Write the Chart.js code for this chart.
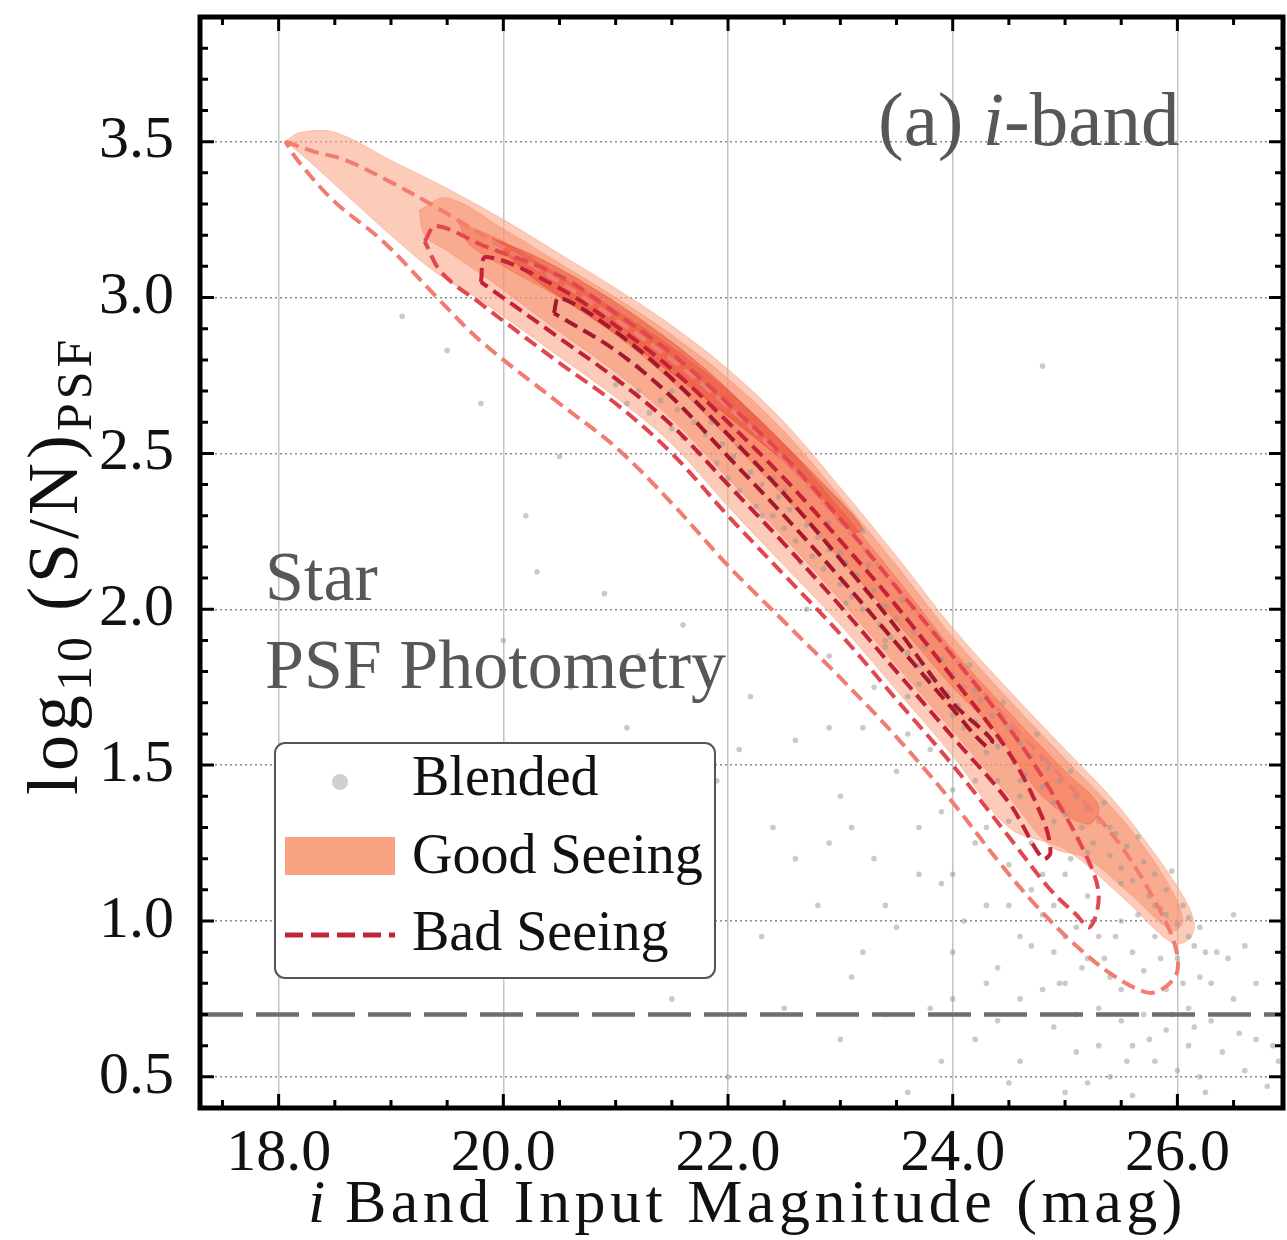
<!DOCTYPE html>
<html>
<head>
<meta charset="utf-8">
<script src="https://cdn.jsdelivr.net/npm/chart.js@4.4.0/dist/chart.umd.min.js"></script>
<style>
body { margin: 0; background: #fff; }
#caixa { width: 1287px; height: 1240px; position: relative; }
</style>
</head>
<body>
<div id="caixa"><canvas id="myChart"></canvas></div>
<script>
// eixos
var xTicks = [18, 20, 22, 24, 26];
var yTicks = [0.5, 1.0, 1.5, 2.0, 2.5, 3.0, 3.5];
var xLim = [17.3, 26.94];
var yLim = [0.4, 3.9];
var limiteSN = 0.7; // log10(5)

// Good Seeing - contornos preenchidos (do mais externo ao mais interno)
var bomNivel1 = [[18.05,3.50],[18.2,3.53],[18.5,3.53],[19.0,3.44],[19.5,3.35],[20.0,3.25],[20.5,3.14],[21.0,3.03],[21.5,2.91],[22.0,2.77],[22.5,2.60],[23.0,2.39],[23.5,2.17],[24.0,1.94],[24.5,1.74],[25.0,1.55],[25.4,1.40],[25.75,1.24],[26.05,1.08],[26.15,0.99],[26.1,0.94],[25.95,0.93],[25.5,1.08],[25.0,1.23],[24.5,1.30],[24.0,1.53],[23.5,1.74],[23.0,1.95],[22.5,2.14],[22.0,2.33],[21.5,2.53],[21.0,2.68],[20.5,2.81],[19.8,2.99],[19.4,3.08],[19.0,3.20],[18.6,3.33],[18.2,3.46],[18.05,3.50]];
var bomNivel2 = [[19.25,3.28],[19.5,3.32],[20.0,3.22],[20.5,3.11],[21.0,3.00],[21.5,2.88],[22.0,2.74],[22.5,2.57],[23.0,2.36],[23.5,2.14],[24.0,1.91],[24.5,1.71],[25.0,1.52],[25.5,1.33],[25.9,1.13],[26.05,1.00],[25.95,0.97],[25.6,1.08],[25.2,1.20],[24.87,1.24],[24.5,1.40],[24.0,1.61],[23.5,1.82],[23.0,2.03],[22.5,2.23],[22.0,2.42],[21.5,2.61],[21.0,2.76],[20.5,2.89],[19.9,3.05],[19.5,3.15],[19.3,3.20],[19.25,3.28]];
var bomNivel3 = [[19.6,3.24],[20.0,3.18],[20.5,3.07],[21.0,2.96],[21.5,2.84],[22.0,2.70],[22.5,2.53],[23.0,2.32],[23.5,2.10],[24.0,1.87],[24.5,1.67],[25.0,1.48],[25.3,1.37],[25.2,1.31],[24.8,1.40],[24.4,1.60],[24.0,1.75],[23.5,1.96],[23.0,2.16],[22.5,2.36],[22.0,2.55],[21.5,2.73],[21.0,2.88],[20.5,3.00],[20.0,3.10],[19.7,3.17],[19.6,3.24]];
var bomNivel4 = [[19.9,3.19],[20.3,3.13],[20.8,3.03],[21.3,2.91],[21.8,2.77],[22.3,2.60],[22.8,2.42],[23.2,2.26],[23.1,2.25],[22.6,2.44],[22.1,2.59],[21.6,2.73],[21.1,2.86],[20.6,2.98],[20.2,3.08],[19.9,3.19]];

// Bad Seeing - contornos tracejados
var ruimNivel1 = [[18.06,3.50],[18.3,3.47],[18.6,3.44],[19.0,3.37],[19.4,3.29],[20.0,3.16],[20.5,3.05],[21.0,2.93],[21.5,2.80],[22.0,2.65],[22.5,2.48],[23.0,2.28],[23.5,2.07],[24.0,1.85],[24.5,1.64],[25.0,1.45],[25.5,1.24],[25.85,1.03],[25.98,0.92],[26.0,0.84],[25.9,0.79],[25.74,0.77],[25.41,0.83],[25.07,0.93],[24.74,1.05],[24.41,1.19],[24.0,1.38],[23.5,1.59],[23.0,1.78],[22.5,1.96],[22.0,2.14],[21.5,2.34],[21.0,2.52],[20.5,2.66],[19.8,2.86],[19.41,3.00],[18.93,3.18],[18.49,3.31],[18.17,3.44],[18.06,3.50]];
var ruimNivel2 = [[19.3,3.18],[19.4,3.23],[19.8,3.17],[20.5,3.07],[21.0,2.95],[21.5,2.82],[22.0,2.66],[22.5,2.49],[23.0,2.29],[23.5,2.07],[24.0,1.85],[24.5,1.62],[24.87,1.42],[25.2,1.20],[25.3,1.08],[25.22,0.98],[25.1,1.02],[24.87,1.10],[24.5,1.27],[24.0,1.50],[23.5,1.71],[23.0,1.92],[22.5,2.11],[22.0,2.30],[21.5,2.50],[21.0,2.66],[20.5,2.79],[19.8,2.98],[19.45,3.08],[19.3,3.18]];
var ruimNivel3 = [[19.8,3.05],[19.85,3.13],[20.5,3.03],[21.0,2.91],[21.5,2.77],[22.0,2.60],[22.5,2.42],[23.0,2.22],[23.5,2.01],[24.0,1.78],[24.5,1.54],[24.8,1.33],[24.87,1.22],[24.8,1.20],[24.5,1.38],[24.0,1.59],[23.5,1.80],[23.0,2.01],[22.5,2.21],[22.0,2.40],[21.5,2.59],[21.0,2.74],[20.5,2.87],[19.8,3.05]];
var ruimNivel4 = [[20.45,2.95],[20.5,3.00],[21.0,2.89],[21.5,2.74],[22.0,2.56],[22.5,2.37],[23.0,2.16],[23.5,1.94],[24.0,1.70],[24.35,1.58],[24.3,1.56],[24.0,1.68],[23.5,1.89],[23.0,2.10],[22.5,2.30],[22.0,2.49],[21.5,2.68],[21.0,2.83],[20.45,2.95]];

// Blended - pontos individuais
var blended = [[21.0,2.72],[21.1,2.66],[21.2,2.70],[21.3,2.63],[21.4,2.67],[21.5,2.58],[21.55,2.64],[21.6,2.55],[21.7,2.60],[21.75,2.50],[21.8,2.56],[21.9,2.47],[21.95,2.53],[22.0,2.42],[22.05,2.49],[22.1,2.38],[22.2,2.44],[22.25,2.33],[22.3,2.40],[22.4,2.30],[22.45,2.36],[22.5,2.26],[22.55,2.32],[22.6,2.22],[22.7,2.27],[22.75,2.17],[22.8,2.23],[22.85,2.13],[22.9,2.19],[23.0,2.08],[23.05,2.15],[23.1,2.04],[23.15,2.11],[23.2,2.00],[23.3,2.06],[23.35,1.95],[23.4,2.01],[23.45,1.91],[23.5,1.97],[23.6,1.86],[23.65,1.93],[23.7,1.82],[23.75,1.88],[23.8,1.78],[23.9,1.84],[23.95,1.73],[24.0,1.79],[24.05,1.69],[24.1,1.75],[24.2,1.64],[24.25,1.71],[24.3,1.60],[24.35,1.66],[24.4,1.56],[24.5,1.62],[24.55,1.51],[24.6,1.57],[24.65,1.47],[24.7,1.53],[24.8,1.43],[24.85,1.49],[24.9,1.38],[24.95,1.45],[25.0,1.34],[25.1,1.40],[25.15,1.30],[25.2,1.36],[25.25,1.25],[25.3,1.32],[25.4,1.21],[25.45,1.28],[25.5,1.17],[25.55,1.24],[25.6,1.13],[25.7,1.19],[25.75,1.08],[25.8,1.15],[25.85,1.04],[25.9,1.10],[26.0,0.99],[26.05,1.05],[26.1,0.95],[26.2,0.98],[26.25,0.90],
  [22.1,2.52],[22.3,2.30],[22.5,2.38],[22.65,2.15],[22.9,2.28],[23.05,2.02],[23.25,2.14],[23.4,1.88],[23.55,2.03],[23.7,1.76],[23.85,1.92],[24.0,1.66],[24.15,1.82],[24.3,1.54],[24.45,1.70],[24.6,1.45],[24.75,1.60],[24.9,1.32],[25.05,1.48],[25.2,1.22],[25.35,1.38],[25.5,1.12],[25.65,1.27],[25.8,1.05],[25.95,1.16],[26.1,1.01],[26.15,0.92],[23.0,2.18],[23.6,1.97],[24.2,1.74],[24.8,1.52],[25.4,1.30],[25.9,1.02],[22.4,2.42],[21.85,2.60],[21.5,2.70],[21.2,2.78],
  [24.8,2.78],[19.1,2.94],[19.5,2.83],[19.8,2.66],[20.5,2.49],[20.2,2.30],[20.9,2.05],[20.6,1.75],[21.1,1.62],[21.6,1.95],[21.9,1.45],[22.2,1.72],[22.4,1.30],[22.6,1.58],[22.8,1.05],[22.9,1.85],[23.0,1.40],[23.1,0.82],[23.2,1.62],[23.3,1.20],[23.4,1.90],[23.5,1.48],[23.5,0.98],[23.6,1.72],[23.7,1.30],[23.8,0.72],[23.8,1.55],[23.9,1.12],[24.0,1.42],[24.0,0.90],[24.1,1.62],[24.2,1.25],[24.2,0.62],[24.3,1.05],[24.4,1.45],[24.4,0.85],[24.5,1.18],[24.5,1.32],[24.6,0.95],[24.6,0.55],[24.7,1.10],[24.7,1.25],[24.8,0.78],[24.8,1.02],[24.9,0.90],[24.9,0.66],[25.0,1.15],[25.0,0.80],[25.1,0.98],[25.1,0.58],[25.2,0.88],[25.2,1.08],[25.3,0.72],[25.3,0.95],[25.4,0.82],[25.4,0.50],[25.5,1.00],[25.5,0.68],[25.6,0.90],[25.6,0.60],[25.7,0.84],[25.7,0.70],[25.8,0.95],[25.8,0.55],[25.9,0.78],[25.9,0.65],[26.0,0.88],[26.0,0.52],[26.1,0.72],[26.1,0.60],[26.2,0.82],[26.2,0.50],[26.3,0.68],[26.4,0.58],[26.5,0.75],[26.6,0.52],[26.7,0.62],[26.8,0.47],[22.0,0.50],[21.5,0.75],[23.6,0.45],[25.0,0.45],[26.5,1.02],[26.9,0.70],[21.3,1.20],[20.0,1.90],[22.7,2.00],[23.2,2.25],[22.3,0.95],[23.0,0.62],[24.4,0.68],[25.6,0.44],[26.35,0.90],[21.8,1.10],[22.1,1.55],[23.9,0.55],
  [22.6,1.20],[22.9,1.62],[23.1,1.30],[23.3,1.75],[23.4,1.05],[23.6,1.60],[23.7,1.15],[23.9,1.35],[24.0,1.15],[24.1,1.00],[24.2,1.45],[24.3,0.80],[24.3,1.30],[24.5,1.05],[24.6,1.40],[24.6,0.75],[24.7,0.92],[24.8,1.15],[24.9,1.05],[24.95,0.80],[25.0,0.95],[25.05,1.20],[25.1,0.70],[25.15,0.85],[25.25,1.00],[25.3,0.60],[25.35,0.88],[25.45,0.95],[25.5,0.78],[25.55,0.55],[25.65,1.02],[25.75,0.62],[25.85,0.88],[25.95,0.70],[26.05,0.80],[26.15,0.66],[26.3,0.80],[26.45,0.88],[26.55,0.64],[26.7,0.80],[26.85,0.60],[26.25,0.45],[25.2,0.48],[24.5,0.48],[24.0,0.75],[23.4,0.70],[22.5,0.72],[23.2,0.90],[22.9,1.25],[21.2,1.85],[20.3,2.12],[21.6,1.35],[26.6,0.92],[26.9,0.55]];

var nomesLegenda = ['Blended', 'Good Seeing', 'Bad Seeing'];

function pontos(lista) {
  return lista.map(function (p) { return { x: p[0], y: p[1] }; });
}

function contornoCheio(lista, cor, ordem) {
  return { data: pontos(lista), showLine: true, fill: 'shape', backgroundColor: cor, borderColor: cor,
    borderWidth: 1, pointRadius: 0, tension: 0.35, order: ordem };
}

function contornoTracejado(lista, cor, ordem) {
  return { data: pontos(lista), showLine: true, fill: false, borderColor: cor, borderWidth: 4,
    borderDash: [14, 7], pointRadius: 0, tension: 0.35, order: ordem };
}

var fonteSerif = '"Liberation Serif", "Times New Roman", serif';

var desenhoExtra = {
  id: 'desenhoExtra',
  afterDraw: function (chart) {
    var ctx = chart.ctx;
    var a = chart.chartArea;
    var sx = chart.scales.x, sy = chart.scales.y;
    ctx.save();

    // ticks para dentro, nos quatro lados
    ctx.strokeStyle = '#000';
    ctx.lineWidth = 3;
    ctx.setLineDash([]);
    var v, px, len;
    for (v = 17.5; v <= 26.51; v += 0.5) {
      px = sx.getPixelForValue(v);
      len = (Math.abs(v / 2 - Math.round(v / 2)) < 0.01) ? 14 : 8;
      ctx.beginPath();
      ctx.moveTo(px, a.bottom); ctx.lineTo(px, a.bottom - len);
      ctx.moveTo(px, a.top); ctx.lineTo(px, a.top + len);
      ctx.stroke();
    }
    for (v = 0.5; v <= 3.85; v += 0.1) {
      var py = sy.getPixelForValue(v);
      len = (Math.abs(v * 2 - Math.round(v * 2)) < 0.01) ? 14 : 8;
      ctx.beginPath();
      ctx.moveTo(a.left, py); ctx.lineTo(a.left + len, py);
      ctx.moveTo(a.right, py); ctx.lineTo(a.right - len, py);
      ctx.stroke();
    }

    // moldura
    ctx.lineWidth = 5;
    ctx.strokeRect(a.left, a.top, a.right - a.left, a.bottom - a.top);

    // textos no grafico
    ctx.fillStyle = '#55575b';
    ctx.textBaseline = 'alphabetic';
    ctx.textAlign = 'left';
    ctx.font = '77px ' + fonteSerif;
    var xx = 878;
    ctx.fillText('(a) ', xx, 145); xx += ctx.measureText('(a) ').width;
    ctx.font = 'italic 77px ' + fonteSerif;
    ctx.fillText('i', xx, 145); xx += ctx.measureText('i').width;
    ctx.font = '77px ' + fonteSerif;
    ctx.fillText('-band', xx, 145);

    ctx.font = '70px ' + fonteSerif;
    ctx.fillText('Star', 265, 600);
    ctx.fillText('PSF Photometry', 265, 688);

    // legenda
    ctx.fillStyle = '#fff';
    ctx.strokeStyle = '#555';
    ctx.lineWidth = 2;
    ctx.beginPath();
    ctx.roundRect(275, 743, 440, 235, 10);
    ctx.fill(); ctx.stroke();
    ctx.fillStyle = '#cfcfcf';
    ctx.beginPath(); ctx.arc(340, 782, 8, 0, Math.PI * 2); ctx.fill();
    ctx.fillStyle = '#f9a282';
    ctx.fillRect(285, 837, 110, 38);
    ctx.strokeStyle = '#c0283a';
    ctx.lineWidth = 5;
    ctx.setLineDash([18, 8]);
    ctx.beginPath(); ctx.moveTo(285, 935); ctx.lineTo(395, 935); ctx.stroke();
    ctx.setLineDash([]);
    ctx.fillStyle = '#111';
    ctx.font = '56px ' + fonteSerif;
    ctx.fillText(nomesLegenda[0], 412, 795);
    ctx.fillText(nomesLegenda[1], 412, 873);
    ctx.fillText(nomesLegenda[2], 412, 950);

    // titulo do eixo x
    ctx.fillStyle = '#111';
    ctx.font = 'italic 62px ' + fonteSerif;
    ctx.fillText('i', 308, 1222);
    ctx.letterSpacing = '4.5px';
    ctx.font = '62px ' + fonteSerif;
    ctx.fillText('Band Input Magnitude (mag)', 345, 1222);

    // titulo do eixo y (rotacionado)
    ctx.translate(77, 795);
    ctx.rotate(-Math.PI / 2);
    ctx.letterSpacing = '4px';
    var t = 0;
    ctx.font = '72px ' + fonteSerif;
    ctx.fillText('log', t, 0); t += ctx.measureText('log').width;
    ctx.font = '50px ' + fonteSerif;
    ctx.fillText('10', t, 14); t += ctx.measureText('10').width + 22;
    ctx.font = '72px ' + fonteSerif;
    ctx.fillText('(S/N)', t, 0); t += ctx.measureText('(S/N)').width;
    ctx.font = '50px ' + fonteSerif;
    ctx.fillText('PSF', t, 14);
    ctx.restore();
  }
};

var ctx = document.getElementById('myChart');
var myChart = new Chart(ctx, {
  type: 'line',
  data: {
    datasets: [
      { label: 'limite', data: [{ x: xLim[0], y: limiteSN }, { x: xLim[1], y: limiteSN }], borderColor: '#6f6f6f',
        borderWidth: 4.5, borderDash: [43, 13], pointRadius: 0, fill: false, order: 0 },
      Object.assign({ label: nomesLegenda[2] }, contornoTracejado(ruimNivel4, '#a3182c', 1)),
      Object.assign({ label: nomesLegenda[2] }, contornoTracejado(ruimNivel3, '#c42036', 2)),
      Object.assign({ label: nomesLegenda[2] }, contornoTracejado(ruimNivel2, '#e2474f', 3)),
      Object.assign({ label: nomesLegenda[2] }, contornoTracejado(ruimNivel1, '#f17d70', 4)),
      { label: nomesLegenda[0], data: pontos(blended), showLine: false, pointRadius: 2.8, pointBorderWidth: 0,
        pointBackgroundColor: 'rgba(150,150,150,0.5)', order: 5 },
      Object.assign({ label: nomesLegenda[1] }, contornoCheio(bomNivel4, 'rgba(228,60,38,0.45)', 6)),
      Object.assign({ label: nomesLegenda[1] }, contornoCheio(bomNivel3, 'rgba(240,95,62,0.42)', 7)),
      Object.assign({ label: nomesLegenda[1] }, contornoCheio(bomNivel2, 'rgba(246,135,100,0.48)', 8)),
      Object.assign({ label: nomesLegenda[1] }, contornoCheio(bomNivel1, 'rgba(250,165,135,0.58)', 9))
    ]
  },
  options: {
    responsive: true,
    maintainAspectRatio: false,
    animation: false,
    layout: { padding: { top: 17, right: 3, left: 0, bottom: 0 } },
    plugins: { legend: { display: false }, tooltip: { enabled: false } },
    scales: {
      x: {
        type: 'linear', min: xLim[0], max: xLim[1],
        afterBuildTicks: function (scale) { scale.ticks = xTicks.map(function (v) { return { value: v }; }); },
        afterFit: function (scale) { scale.height = 132; scale.paddingLeft = 0; scale.paddingRight = 0; },
        grid: { color: '#c4c4c4', lineWidth: 1.5, drawTicks: false },
        border: { display: false },
        ticks: { padding: 10, color: '#111', font: { family: fonteSerif, size: 60 },
          callback: function (v) { return v.toFixed(1); } }
      },
      y: {
        type: 'linear', min: yLim[0], max: yLim[1],
        afterBuildTicks: function (scale) { scale.ticks = yTicks.map(function (v) { return { value: v }; }); },
        afterFit: function (scale) { scale.width = 200; scale.paddingTop = 0; scale.paddingBottom = 0; },
        grid: { color: '#8a8a8a', lineWidth: 1.5, drawTicks: false },
        border: { display: false, dash: [2, 3] },
        ticks: { padding: 26, color: '#111', font: { family: fonteSerif, size: 60 },
          callback: function (v) { return v.toFixed(1); } }
      }
    }
  },
  plugins: [desenhoExtra]
});
</script>
</body>
</html>
